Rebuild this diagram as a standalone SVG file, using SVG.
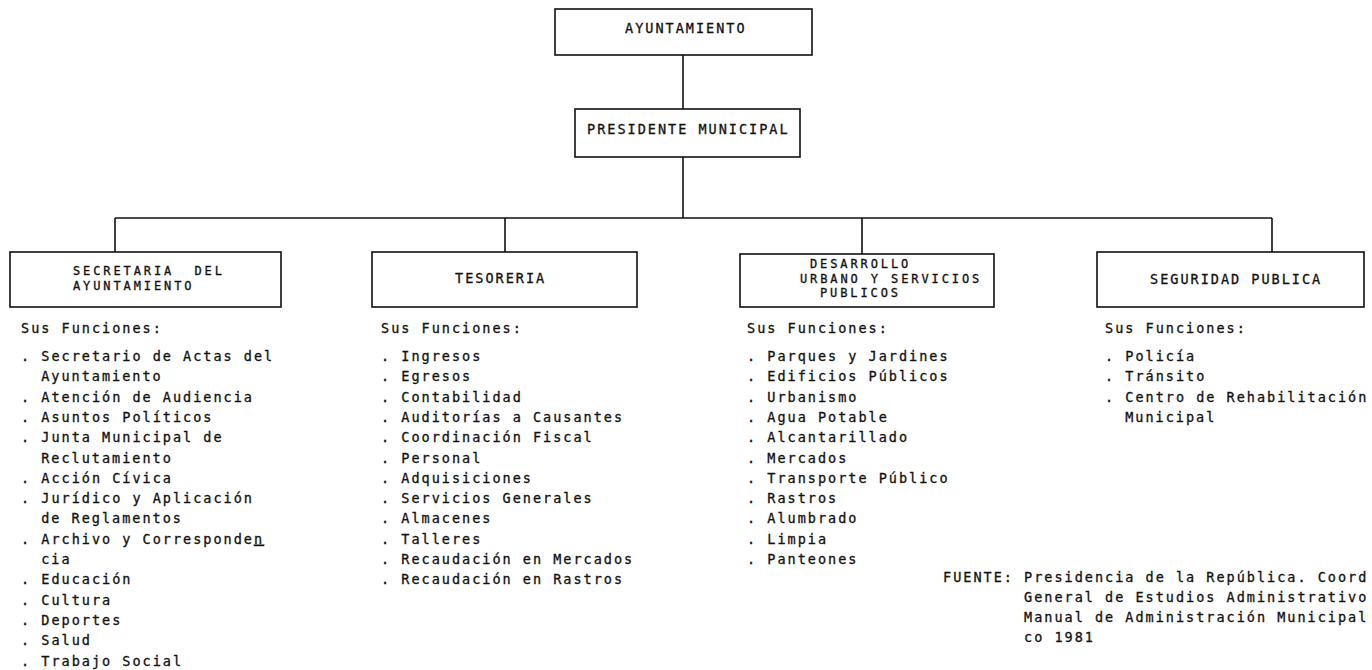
<svg xmlns="http://www.w3.org/2000/svg" width="1372" height="670" viewBox="0 0 1372 670">
  <style>
    .bg { fill: #ffffff; }
    .box { fill: #ffffff; stroke: #111111; stroke-width: 1.6; }
    .wire { fill: none; stroke: #111111; stroke-width: 1.6; }
    .t { font-family: "DejaVu Sans Mono", "Liberation Mono", monospace; font-size: 13.5px; letter-spacing: 2px; fill: #111111; stroke: #111111; stroke-width: 0.3; }
    .bt { font-family: "DejaVu Sans Mono", "Liberation Mono", monospace; font-size: 12px; letter-spacing: 2.9px; fill: #111111; stroke: #111111; stroke-width: 0.3; }
  </style>

  <rect class="bg" x="0" y="0" width="1372" height="670"/>

  <!-- connectors -->
  <g id="connectors">
    <path class="wire" d="M683 55 V109"/>
    <path class="wire" d="M683 157 V218"/>
    <path class="wire" d="M115 218 H1272"/>
    <path class="wire" d="M115 218 V252"/>
    <path class="wire" d="M505 218 V252"/>
    <path class="wire" d="M862 218 V254"/>
    <path class="wire" d="M1272 218 V252"/>
  </g>

  <!-- top level -->
  <g id="n-ayuntamiento">
    <rect class="box" x="555" y="9" width="257" height="46"/>
    <text class="t" x="625" y="33">AYUNTAMIENTO</text>
  </g>

  <g id="n-presidente">
    <rect class="box" x="575" y="109" width="225" height="48"/>
    <text class="t" x="587" y="134">PRESIDENTE MUNICIPAL</text>
  </g>

  <!-- departments -->
  <g id="n-secretaria">
    <rect class="box" x="10" y="252" width="271" height="55"/>
    <text class="bt" x="73" y="275" xml:space="preserve">SECRETARIA  DEL</text>
    <text class="bt" x="73" y="290">AYUNTAMIENTO</text>
  </g>

  <g id="n-tesoreria">
    <rect class="box" x="372" y="252" width="265" height="55"/>
    <text class="t" x="455" y="283">TESORERIA</text>
  </g>

  <g id="n-desarrollo">
    <rect class="box" x="740" y="254" width="254" height="53"/>
    <text class="bt" x="810" y="268">DESARROLLO</text>
    <text class="bt" x="800" y="282.5">URBANO Y SERVICIOS</text>
    <text class="bt" x="820" y="297">PUBLICOS</text>
  </g>

  <g id="n-seguridad">
    <rect class="box" x="1097" y="252" width="267" height="55"/>
    <text class="t" x="1150" y="284">SEGURIDAD PUBLICA</text>
  </g>

  <!-- functions of each department -->
  <g id="funciones-secretaria">
    <text class="t" x="21" y="333">Sus Funciones:</text>
    <text class="t" x="21" y="361">. Secretario de Actas del</text>
    <text class="t" x="41.2" y="381.3">Ayuntamiento</text>
    <text class="t" x="21" y="401.6">. Atención de Audiencia</text>
    <text class="t" x="21" y="421.9">. Asuntos Políticos</text>
    <text class="t" x="21" y="442.2">. Junta Municipal de</text>
    <text class="t" x="41.2" y="462.5">Reclutamiento</text>
    <text class="t" x="21" y="482.8">. Acción Cívica</text>
    <text class="t" x="21" y="503.1">. Jurídico y Aplicación</text>
    <text class="t" x="41.2" y="523.4">de Reglamentos</text>
    <text class="t" x="21" y="543.7">. Archivo y Corresponde<tspan text-decoration="underline">n</tspan></text>
    <text class="t" x="41.2" y="564">cia</text>
    <text class="t" x="21" y="584.3">. Educación</text>
    <text class="t" x="21" y="604.6">. Cultura</text>
    <text class="t" x="21" y="624.9">. Deportes</text>
    <text class="t" x="21" y="645.2">. Salud</text>
    <text class="t" x="21" y="665.5">. Trabajo Social</text>
  </g>

  <g id="funciones-tesoreria">
    <text class="t" x="381" y="333">Sus Funciones:</text>
    <text class="t" x="381" y="361">. Ingresos</text>
    <text class="t" x="381" y="381.3">. Egresos</text>
    <text class="t" x="381" y="401.6">. Contabilidad</text>
    <text class="t" x="381" y="421.9">. Auditorías a Causantes</text>
    <text class="t" x="381" y="442.2">. Coordinación Fiscal</text>
    <text class="t" x="381" y="462.5">. Personal</text>
    <text class="t" x="381" y="482.8">. Adquisiciones</text>
    <text class="t" x="381" y="503.1">. Servicios Generales</text>
    <text class="t" x="381" y="523.4">. Almacenes</text>
    <text class="t" x="381" y="543.7">. Talleres</text>
    <text class="t" x="381" y="564">. Recaudación en Mercados</text>
    <text class="t" x="381" y="584.3">. Recaudación en Rastros</text>
  </g>

  <g id="funciones-desarrollo">
    <text class="t" x="747" y="333">Sus Funciones:</text>
    <text class="t" x="747" y="361">. Parques y Jardines</text>
    <text class="t" x="747" y="381.3">. Edificios Públicos</text>
    <text class="t" x="747" y="401.6">. Urbanismo</text>
    <text class="t" x="747" y="421.9">. Agua Potable</text>
    <text class="t" x="747" y="442.2">. Alcantarillado</text>
    <text class="t" x="747" y="462.5">. Mercados</text>
    <text class="t" x="747" y="482.8">. Transporte Público</text>
    <text class="t" x="747" y="503.1">. Rastros</text>
    <text class="t" x="747" y="523.4">. Alumbrado</text>
    <text class="t" x="747" y="543.7">. Limpia</text>
    <text class="t" x="747" y="564">. Panteones</text>
  </g>

  <g id="funciones-seguridad">
    <text class="t" x="1105" y="333">Sus Funciones:</text>
    <text class="t" x="1105" y="361">. Policía</text>
    <text class="t" x="1105" y="381.3">. Tránsito</text>
    <text class="t" x="1105" y="401.6">. Centro de Rehabilitación</text>
    <text class="t" x="1125.2" y="421.9">Municipal</text>
  </g>

  <!-- source note -->
  <g id="fuente">
    <text class="t" x="943" y="582">FUENTE:</text>
    <text class="t" x="1024" y="582">Presidencia de la República. Coord</text>
    <text class="t" x="1024" y="602">General de Estudios Administrativo</text>
    <text class="t" x="1024" y="622">Manual de Administración Municipal</text>
    <text class="t" x="1024" y="642">co 1981</text>
  </g>
</svg>
